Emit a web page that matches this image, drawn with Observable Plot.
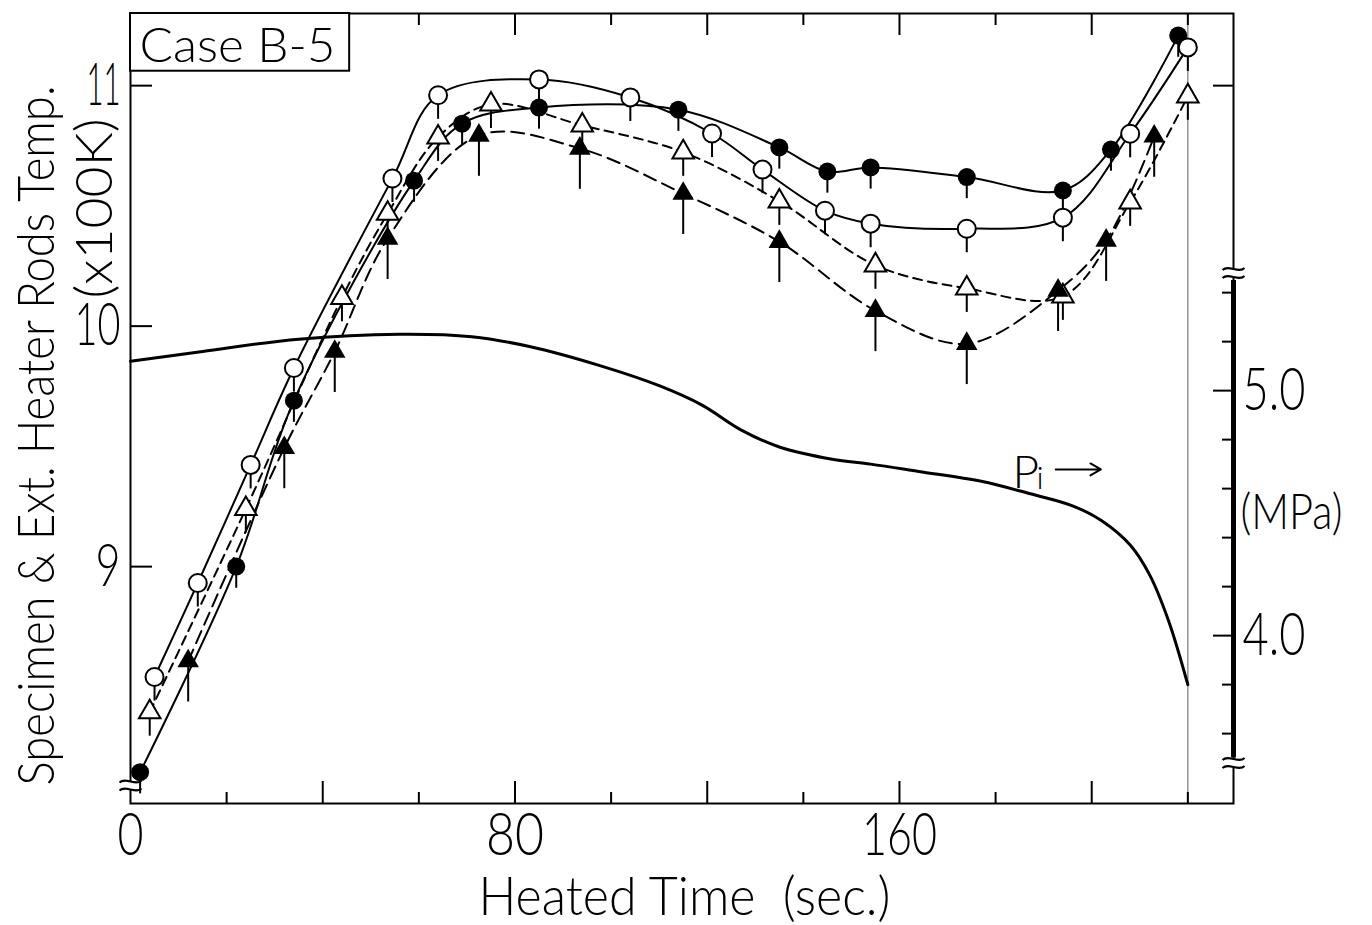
<!DOCTYPE html>
<html><head><meta charset="utf-8">
<script src="https://cdn.jsdelivr.net/npm/d3@7"></script>
<script src="https://cdn.jsdelivr.net/npm/@observablehq/plot@0.6"></script>
<style>
body{margin:0;background:#fff;}
#chart svg{display:block;background:#fff;}
#chart svg text{font-family:Lato,"DejaVu Sans",sans-serif;font-weight:300;white-space:pre;}
</style></head><body><div id="chart"></div>
<script>
// ---- data ----
// heated time (sec) and temperature (x100 K)
const filledCircleT = [2, 22, 34, 59, 69, 85, 114, 135, 145, 154, 174, 194, 204, 218];
const filledCircleV = [8.145, 9.00, 9.69, 10.605, 10.842, 10.909, 10.90, 10.743, 10.643, 10.66, 10.62, 10.564, 10.734, 11.208];
const openCircleT = [5, 14, 25, 34, 54.5, 64, 85, 104, 121, 131.5, 144.5, 154, 174, 194, 208, 220];
const openCircleV = [8.541, 8.932, 9.423, 9.826, 10.614, 10.96, 11.026, 10.951, 10.801, 10.651, 10.48, 10.426, 10.405, 10.451, 10.80, 11.159];
const openTriT = [4, 24, 44, 53.5, 64, 75, 94, 115, 135, 155, 174, 194, 208, 220];
const openTriV = [8.395, 9.24, 10.118, 10.468, 10.785, 10.922, 10.835, 10.723, 10.519, 10.253, 10.157, 10.124, 10.515, 10.956];
const filledTriT = [12, 32, 42.5, 53.5, 72.5, 93.5, 115, 135, 155, 174, 193, 203, 213];
const filledTriV = [8.607, 9.494, 9.894, 10.364, 10.793, 10.739, 10.551, 10.351, 10.064, 9.927, 10.148, 10.356, 10.789];
// internal pressure Pi (MPa)
const piT   = [0, 15, 35, 56, 71, 83, 98, 110, 119, 127, 135, 146, 154, 164, 177, 187, 196, 202, 208, 212, 216, 220];
const piMPa = [5.12, 5.16, 5.21, 5.23, 5.22, 5.18, 5.10, 5.02, 4.94, 4.84, 4.77, 4.72, 4.70, 4.67, 4.63, 4.58, 4.53, 4.47, 4.37, 4.25, 4.06, 3.80];
// ticks
const xTickLabels = [0, 80, 160];
const xMajorTicks = [40, 80, 120, 160, 200];
const xMinorTicks = [20, 60, 100, 140, 180, 220];
const yTickLabels = [9, 10, 11];
const mpaTickLabels = [4.0, 5.0];
const mpaMinorTicks = [3.6, 3.8, 4.2, 4.4, 4.6, 4.8, 5.2, 5.4];

// ---- layout ----
const W = 1372, H = 925;
const frameL = 130, frameR = 1233, frameT = 13, frameB = 803;
const plotW = frameR - frameL, plotH = frameB - frameT;
const xMax = 229.5, yMin = 8.015, yMax = 11.30;
// right (MPa) axis expressed on the left temperature scale
const mpaToV = p => 9 + (176 + 245 * (p - 5)) / 240.5;
const vToMpa = v => 5 + ((v - 9) * 240.5 - 176) / 245;

const rows = (T, V) => T.map((t, i) => ({t, v: V[i]}));
const fc = rows(filledCircleT, filledCircleV);
const oc = rows(openCircleT, openCircleV);
const ot = rows(openTriT, openTriV);
const ft = rows(filledTriT, filledTriV);
const pi = piT.map((t, i) => ({t, p: piMPa[i]}));

// axis-break glyph: a white gap crossed by two small waves
const gapSymbol = {draw(ctx) { ctx.rect(-5, -4, 10, 8); }};
const waveSymbol = {draw(ctx) {
  for (const dy of [-4, 4]) { ctx.moveTo(-11, dy + 1); ctx.bezierCurveTo(-5, dy - 5, 5, dy + 5, 11, dy - 1); }
}};
const breaks = [{x: 0, y: 8.09}, {x: xMax, y: mpaToV(5.48)}, {x: xMax, y: mpaToV(3.48)}];

const lw = 2;
const label = (s, o) => Plot.text([s], {text: d => d, textAnchor: "middle", lineAnchor: "middle", ...o});
const chart = Plot.plot({
  width: W, height: H,
  marginLeft: frameL, marginRight: W - frameR, marginTop: frameT, marginBottom: H - frameB,
  x: {domain: [0, xMax]},
  y: {domain: [yMin, yMax]},
  marks: [
    Plot.frame({strokeWidth: 2}),
    Plot.ruleX([xMax], {y1: mpaToV(3.50), y2: mpaToV(5.45), strokeWidth: 5}),
    Plot.ruleX([220], {stroke: "#777", strokeWidth: 1.2}),
    // inward ticks
    Plot.ruleX(xMajorTicks, {insetTop: plotH - 22, strokeWidth: 2}),
    Plot.ruleX(xMinorTicks, {insetTop: plotH - 11, strokeWidth: 2}),
    Plot.ruleX(xMajorTicks, {insetBottom: plotH - 22, strokeWidth: 2}),
    Plot.ruleX(xMinorTicks, {insetBottom: plotH - 12, strokeWidth: 2}),
    Plot.ruleY(yTickLabels, {insetRight: plotW - 22, strokeWidth: 2}),
    Plot.ruleY([11], {insetLeft: plotW - 20, strokeWidth: 2}),
    Plot.ruleY(mpaTickLabels.map(mpaToV), {insetLeft: plotW - 20, strokeWidth: 2}),
    Plot.ruleY(mpaMinorTicks.map(mpaToV), {insetLeft: plotW - 11, strokeWidth: 2}),
    // axis breaks
    Plot.dot(breaks, {x: "x", y: "y", symbol: gapSymbol, fill: "white", stroke: "none"}),
    Plot.dot(breaks, {x: "x", y: "y", symbol: waveSymbol, fill: "none", stroke: "black", strokeWidth: 2}),
    // tick labels
    Plot.axisX(xTickLabels, {tickSize: 0, tickPadding: 9, fontSize: 60, label: null, tickFormat: d => String(d)}),
    Plot.axisY(yTickLabels, {anchor: "left", tickSize: 0, tickPadding: 10, fontSize: 59, label: null, tickFormat: d => String(d)}),
    Plot.axisY(mpaTickLabels.map(mpaToV), {anchor: "right", tickSize: 0, tickPadding: 9, fontSize: 60, label: null, tickFormat: v => d3.format(".1f")(vToMpa(v))}),
    // pressure curve
    Plot.line(pi, {x: "t", y: d => mpaToV(d.p), curve: "catmull-rom", strokeWidth: 3}),
    // temperature curves
    Plot.line(fc, {x: "t", y: "v", curve: "catmull-rom", strokeWidth: lw}),
    Plot.line(oc, {x: "t", y: "v", curve: "catmull-rom", strokeWidth: lw}),
    Plot.line(ot, {x: "t", y: "v", curve: "catmull-rom", strokeWidth: lw, strokeDasharray: "9,6"}),
    Plot.line(ft, {x: "t", y: "v", curve: "catmull-rom", strokeWidth: lw, strokeDasharray: "13,7"}),
    // stems under markers
    Plot.ruleX(fc, {x: "t", y1: "v", y2: d => d.v - 0.09, strokeWidth: 2}),
    Plot.ruleX(oc, {x: "t", y1: "v", y2: d => d.v - 0.10, strokeWidth: 2}),
    Plot.ruleX(ot, {x: "t", y1: "v", y2: d => d.v - 0.10, strokeWidth: 2}),
    Plot.ruleX(ft, {x: "t", y1: "v", y2: d => d.v - 0.17, strokeWidth: 2}),
    // markers
    Plot.dot(fc, {x: "t", y: "v", r: 9, fill: "black"}),
    Plot.dot(oc, {x: "t", y: "v", r: 9, fill: "white", stroke: "black", strokeWidth: 2}),
    Plot.dot(ot, {x: "t", y: "v", r: 8, symbol: "triangle", fill: "white", stroke: "black", strokeWidth: 2}),
    Plot.dot(ft, {x: "t", y: "v", r: 8, symbol: "triangle", fill: "black"}),
    // case box
    Plot.rect([0], {x1: 0, x2: 45.6, y1: 11.06, y2: yMax, fill: "white", stroke: "black", strokeWidth: 2}),
    label("Case B-5", {frameAnchor: "top-left", dx: 9, dy: 33, textAnchor: "start", fontSize: 47}),
    // Pi label
    label("P", {frameAnchor: "top-left", dx: 882, dy: 460, textAnchor: "start", fontSize: 46}),
    label("i", {frameAnchor: "top-left", dx: 906, dy: 465, textAnchor: "start", fontSize: 32}),
    Plot.arrow([0], {x1: 192.5, x2: 201.9, y1: 9.404, y2: 9.404, strokeWidth: 2, headLength: 9}),
    // axis titles
    label("Specimen & Ext. Heater Rods Temp.", {frameAnchor: "left", dx: -93, dy: 27, rotate: -90, fontSize: 51}),
    label("(x100K)", {frameAnchor: "left", dx: -35, dy: -200, rotate: -90, fontSize: 52}),
    label("Heated Time  (sec.)", {frameAnchor: "bottom", dx: 2.5, dy: 95, fontSize: 53}),
    label("(MPa)", {frameAnchor: "right", dx: 7, dy: 104, textAnchor: "start", fontSize: 50})
  ]
});
document.getElementById("chart").appendChild(chart);

// condense the lettering to the widths of the original figure
const fit = {"Specimen & Ext. Heater Rods Temp.": 700, "(x100K)": 180, "Heated Time  (sec.)": 412,
  "Case B-5": 196, "(MPa)": 102, "0": 26, "80": 58, "160": 75, "9": 25, "10": 46, "11": 34, "5.0": 63, "4.0": 63};
chart.querySelectorAll("text").forEach(t => {
  const w = fit[t.textContent];
  if (w) { t.setAttribute("textLength", w); t.setAttribute("lengthAdjust", "spacingAndGlyphs"); }
});
</script></body></html>
